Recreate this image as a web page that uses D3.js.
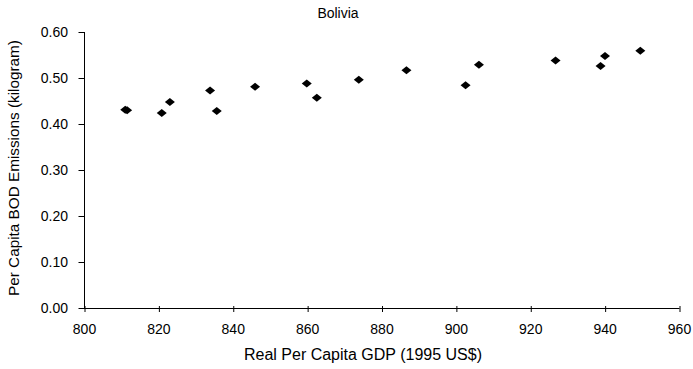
<!DOCTYPE html>
<html>
<head>
<meta charset="utf-8">
<script src="https://cdn.jsdelivr.net/npm/d3@7"></script>
<style>
  html, body { margin: 0; padding: 0; background: #fff; }
  svg { display: block; font-family: "Liberation Sans", Arial, Helvetica, sans-serif; }
</style>
</head>
<body>
<svg id="chart" width="693" height="369"></svg>
<script>
// Bolivia: real per capita GDP vs per capita BOD emissions
const gdp = [811.1, 811.6, 820.9, 823.1, 833.9, 835.7, 846.0, 859.9, 862.6, 873.9,
             886.7, 902.6, 906.2, 926.8, 938.9, 940.1, 949.6];
const bod = [0.431, 0.430, 0.424, 0.448, 0.473, 0.428, 0.481, 0.488, 0.457, 0.496,
             0.517, 0.484, 0.529, 0.538, 0.526, 0.548, 0.559];
const xTicks = [800, 820, 840, 860, 880, 900, 920, 940, 960];
const yTicks = [0, 0.1, 0.2, 0.3, 0.4, 0.5, 0.6];

const title = "Bolivia";
const xTitle = "Real Per Capita GDP (1995 US$)";
const yTitle = "Per Capita BOD Emissions (kilogram)";

const margin = { left: 84, right: 14, top: 32, bottom: 61 };
const W = 693, H = 369;
const svg = d3.select("#chart");

const x = d3.scaleLinear().domain([800, 960]).range([margin.left, W - margin.right]);
const y = d3.scaleLinear().domain([0, 0.6]).range([H - margin.bottom, margin.top]);

const font = "'Liberation Sans', Arial, sans-serif";

// y axis
const yAxis = svg.append("g")
  .attr("transform", `translate(${margin.left},0)`)
  .call(d3.axisLeft(y).tickValues(yTicks).tickFormat(d3.format(".2f")).tickSize(6).tickPadding(10));
yAxis.select(".domain").attr("d", `M0.5,${y(0.6)}V${y(0) + 0.5}`).attr("stroke", "#000");
yAxis.selectAll(".tick line").attr("stroke", "#000").attr("transform", "translate(0.5,0)");
yAxis.selectAll(".tick text").attr("font-size", 14).attr("fill", "#000").attr("font-family", font);

// x axis (ticks cross the axis line)
const xAxis = svg.append("g")
  .attr("transform", `translate(0,${y(0)})`)
  .call(d3.axisBottom(x).tickValues(xTicks).tickFormat(d3.format("d")).tickSize(4).tickPadding(12));
xAxis.select(".domain").attr("d", `M${x(800)},0.5H${x(960) + 0.5}`).attr("stroke", "#000");
xAxis.selectAll(".tick line").attr("stroke", "#000").attr("y1", -2).attr("transform", "translate(0.5,0)");
xAxis.selectAll(".tick text").attr("font-size", 14).attr("fill", "#000").attr("font-family", font);

// diamond markers
const pts = gdp.map((g, i) => ({ g, b: bod[i] }));
svg.append("g").selectAll("path")
  .data(pts)
  .join("path")
  .attr("transform", d => `translate(${x(d.g)},${y(d.b)})`)
  .attr("d", "M-5,0L0,-4L5,0L0,4Z")
  .attr("fill", "#000");

// titles
svg.append("text")
  .attr("x", 338).attr("y", 18)
  .attr("text-anchor", "middle").attr("font-size", 14)
  .text(title);

svg.append("text")
  .attr("x", 363).attr("y", 360)
  .attr("text-anchor", "middle").attr("font-size", 16)
  .text(xTitle);

svg.append("text")
  .attr("transform", `translate(19,168) rotate(-90)`)
  .attr("text-anchor", "middle").attr("font-size", 15.3)
  .text(yTitle);
</script>
</body>
</html>
